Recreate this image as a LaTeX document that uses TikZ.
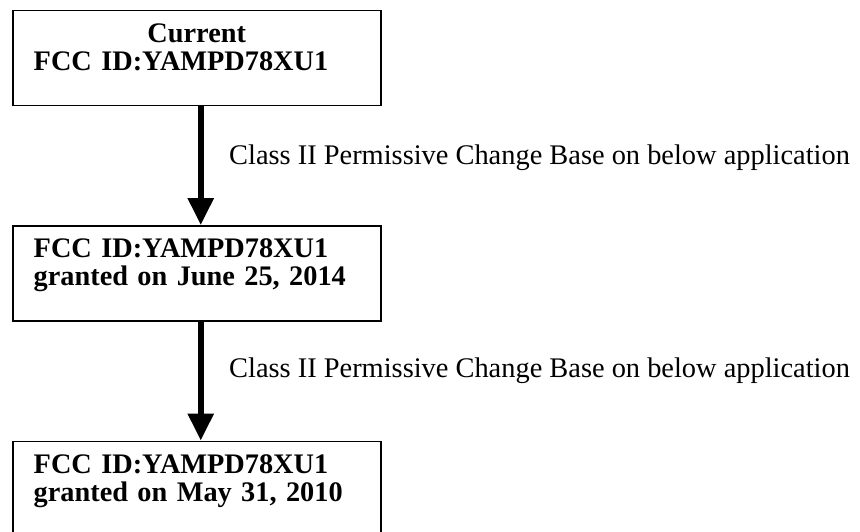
\documentclass[tikz,border=0pt]{standalone}
\usepackage{fontspec}
\setmainfont{Liberation Serif}
\usetikzlibrary{positioning,arrows.meta}

\begin{document}
\begin{tikzpicture}[x=1pt,y=-1pt,>={Triangle[width=25pt,length=27pt]},node distance=119pt,
    box node/.style={draw,rectangle,line width=1.5pt,minimum width=368pt,minimum height=95pt,text width=326pt,inner xsep=21pt,inner ysep=0pt,text height=32pt,text depth=63pt,align=left,font=\fontsize{28.3}{28}\selectfont\bfseries},
    note/.style={anchor=base west,inner sep=0pt,font=\fontsize{28.4}{28}\selectfont},
    flow/.style={->,line width=6pt}]
    \useasboundingbox (0,0) rectangle (860,531);

    \node[box node,anchor=north west] (1) at (12,9.5) {\makebox[\linewidth]{Current}\\FCC ID:YAMPD78XU1};
    \node[box node] (2) [below=of 1] {FCC ID:YAMPD78XU1\\granted on June 25, 2014};
    \node[box node] (3) [below=of 2] {FCC ID:YAMPD78XU1\\granted on May 31, 2010};

    \node[note] (c1) at (229,164) {Class II Permissive Change Base on below application};
    \node[note] (c2) at (229,377) {Class II Permissive Change Base on below application};

    \draw[flow] ([xshift=4pt]1.south) -- ([xshift=4pt]2.north);
    \draw[flow] ([xshift=4pt]2.south) -- ([xshift=4pt]3.north);
\end{tikzpicture}
\end{document}
